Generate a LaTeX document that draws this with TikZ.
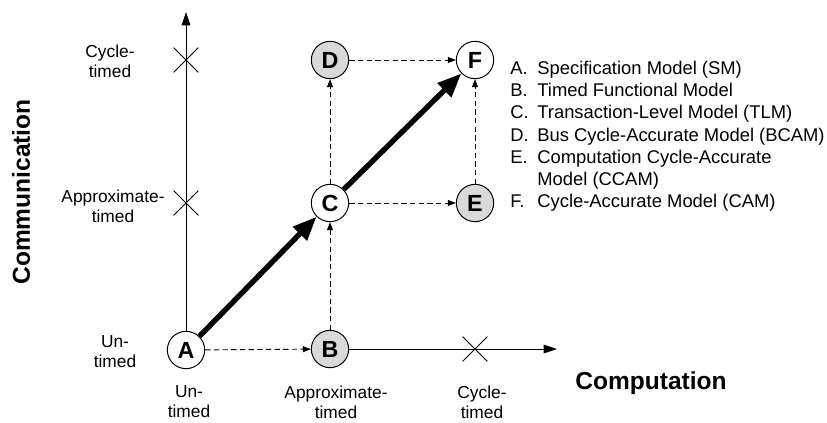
\documentclass[tikz,border=0pt]{standalone}
\usepackage{fontspec}
\setmainfont{Liberation Sans}
\usepackage{tikz}
\usetikzlibrary{arrows.meta, positioning, shapes.misc}

\tikzset{
  model/.style={draw, circle, line width=0.75pt, minimum size=28pt, inner sep=0pt,
    font=\fontsize{17.5}{17.5}\selectfont\bfseries},
  refined/.style={model, fill=gray!30},
  tick/.style={draw, cross out, line width=0.6pt, minimum size=18pt, inner sep=0pt},
  refine/.style={dashed, dash pattern=on 4pt off 2.5pt, line width=0.7pt,
    -{Triangle[length=6pt, width=4.5pt]}},
  flow/.style={line width=4pt, -{Triangle[length=18pt, width=14pt]}},
  level/.style={align=center, font=\fontsize{13}{15}\selectfont},
}

\begin{document}
\begin{tikzpicture}[x=0.75pt, y=-0.75pt]
  \useasboundingbox (0,0) rectangle (827,422);
  % models
  \node[model]   (A) at (186,350) {A};
  \node[refined] (B) at (330,349) {B};
  \node[model]   (C) at (330,203) {C};
  \node[refined] (D) at (330,60)  {D};
  \node[refined] (E) at (475,203) {E};
  \node[model]   (F) at (475,60)  {F};
  % axes
  \coordinate (comtop) at (186,12);
  \coordinate (compend) at (557,349);
  \draw[line width=0.7pt, -{Triangle[length=10pt, width=6.5pt]}] (A) -- (comtop);
  \draw[line width=0.7pt, -{Triangle[length=10pt, width=6.5pt]}] (B) -- (compend);
  \node[tick] (ct) at (186,60) {};
  \node[tick] (at) at (186,203) {};
  \node[tick] (xt) at (475,349) {};
  % refinement steps
  \draw[refine] (A) -- (B);
  \draw[refine] (B) -- (C);
  \draw[refine] (C) -- (D);
  \draw[refine] (C) -- (E);
  \draw[refine] (D) -- (F);
  \draw[refine] (E) -- (F);
  \draw[flow] (A) -- (C);
  \draw[flow] (C) -- (F);
  % axis levels
  \node[level] (lcy) at (110,61)  {Cycle-\\timed};
  \node[level] (lap) at (113,206) {Approximate-\\timed};
  \node[level] (lun) at (115,352) {Un-\\timed};
  \node[level] (bun) at (189,402) {Un-\\timed};
  \node[level] (bap) at (336,402) {Approximate-\\timed};
  \node[level] (bcy) at (482,402) {Cycle-\\timed};
  % axis titles
  \node[font=\fontsize{18.4}{18.4}\selectfont\bfseries, rotate=90] (comm) at (21,192) {Communication};
  \node[font=\fontsize{18.4}{18.4}\selectfont\bfseries] (comp) at (651,383) {Computation};
  % legend
  \node[anchor=north west, inner sep=0pt, font=\fontsize{13.8}{16.7}\selectfont] (legend) at (510,58.4) {%
    \begin{tabular}{@{}l@{}l@{}}
      \makebox[20.3pt][l]{A.} & Specification Model (SM)\\
      \makebox[20.3pt][l]{B.} & Timed Functional Model\\
      \makebox[20.3pt][l]{C.} & Transaction-Level Model (TLM)\\
      \makebox[20.3pt][l]{D.} & Bus Cycle-Accurate Model (BCAM)\\
      \makebox[20.3pt][l]{E.} & Computation Cycle-Accurate\\
                              & Model (CCAM)\\
      \makebox[20.3pt][l]{F.} & Cycle-Accurate Model (CAM)
    \end{tabular}};
\end{tikzpicture}
\end{document}
